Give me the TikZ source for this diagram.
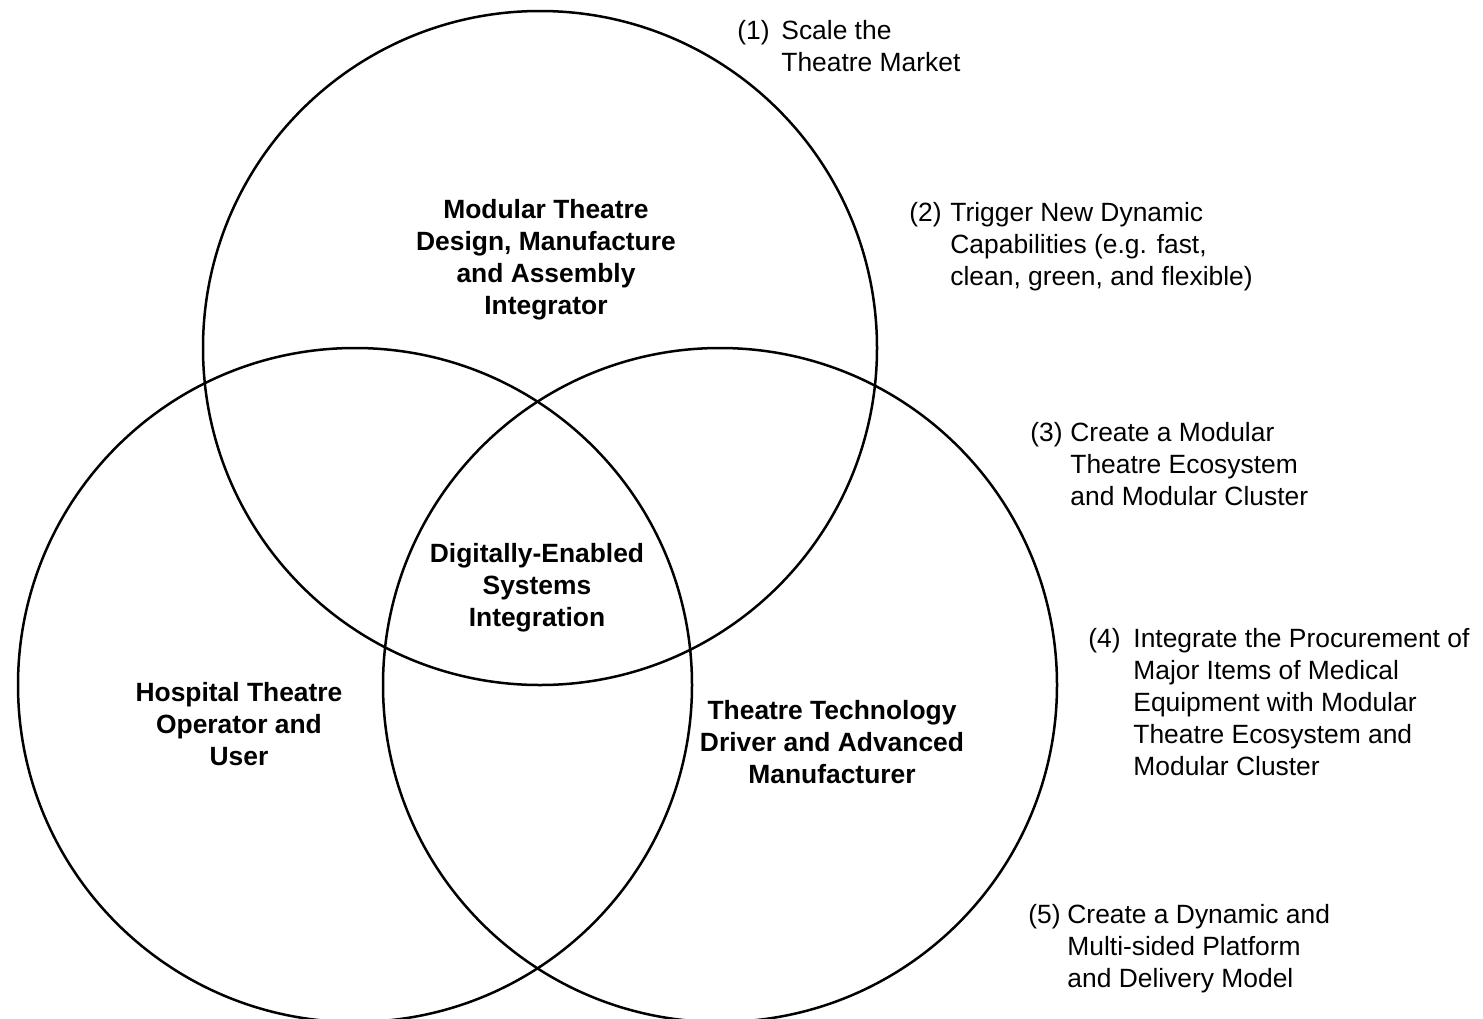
\documentclass[tikz,border=0pt]{standalone}
\usepackage{fontspec}
\setmainfont{Liberation Sans}
\begin{document}
\begin{tikzpicture}[x=0.5pt,y=-0.5pt,
  venn/.style={circle,draw=black,line width=1.25pt,minimum size=337pt,inner sep=0pt},
  lbl/.style={font=\fontsize{13.2}{16}\selectfont\bfseries,align=center,anchor=north,inner sep=0pt},
  num/.style={font=\fontsize{13.2}{16}\selectfont,anchor=base west,inner sep=0pt},
  itm/.style={font=\fontsize{13.2}{16}\selectfont,align=left,anchor=north west,inner sep=0pt}]
\useasboundingbox (0,0) rectangle (1483,1018);
\clip (0,0) rectangle (1483,1018);
\node[venn] (ctop) at (540,348) {};
\node[venn] (cleft) at (355,685) {};
\node[venn] (cright) at (720,685) {};

\node[lbl] (ltop) at (546,199) {Modular Theatre\\Design, Manufacture\\and Assembly\\Integrator};
\node[lbl] (lmid) at (537,542.7) {Digitally-Enabled\\Systems\\Integration};
\node[lbl] (lleft) at (239,681.7) {Hospital Theatre\\Operator and\\User};
\node[lbl] (lright) at (832,699.7) {Theatre Technology\\Driver and Advanced\\Manufacturer};

\node[num] (n1) at (737,39) {(1)};
\node[itm] (t1) at (781,19.7) {Scale the\\Theatre Market};
\node[num] (n2) at (909,221) {(2)};
\node[itm] (t2) at (950,201.7) {Trigger New Dynamic\\Capabilities (e.g. fast,\\clean, green, and flexible)};
\node[num] (n3) at (1030,441) {(3)};
\node[itm] (t3) at (1070,421.7) {Create a Modular\\Theatre Ecosystem\\and Modular Cluster};
\node[num] (n4) at (1088,647) {(4)};
\node[itm] (t4) at (1133,627.7) {Integrate the Procurement of\\Major Items of Medical\\Equipment with Modular\\Theatre Ecosystem and\\Modular Cluster};
\node[num] (n5) at (1028,923) {(5)};
\node[itm] (t5) at (1067,903.7) {Create a Dynamic and\\Multi-sided Platform\\and Delivery Model};
\end{tikzpicture}
\end{document}
